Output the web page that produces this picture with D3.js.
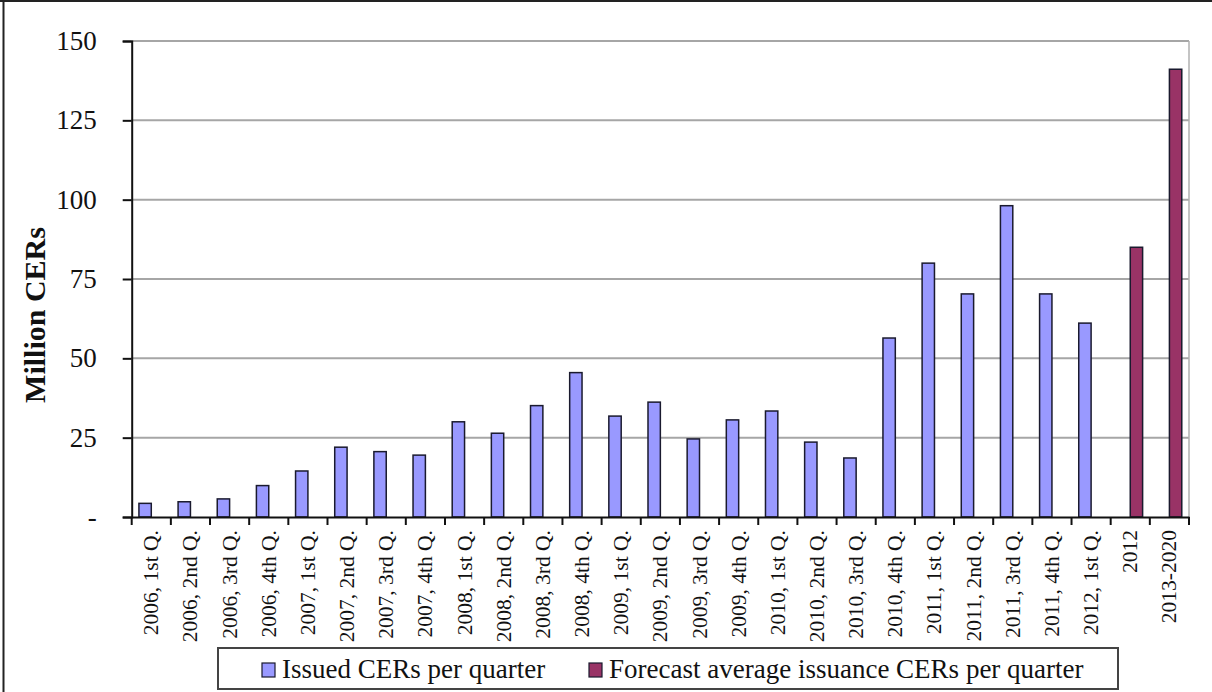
<!DOCTYPE html>
<meta charset="utf-8">
<html>
<head>
  <style>
    body {
      margin: 0;
      background: #fff;
    }
    svg {
      display: block;
      font-family: "Liberation Serif", "Times New Roman", serif;
    }
  </style>
</head>
<body>
<svg width="1212" height="692"></svg>
<script src="https://d3js.org/d3.v7.min.js"></script>
<script>
  const categories = [
    "2006, 1st Q.", "2006, 2nd Q.", "2006, 3rd Q.", "2006, 4th Q.",
    "2007, 1st Q.", "2007, 2nd Q.", "2007, 3rd Q.", "2007, 4th Q.",
    "2008, 1st Q.", "2008, 2nd Q.", "2008, 3rd Q.", "2008, 4th Q.",
    "2009, 1st Q.", "2009, 2nd Q.", "2009, 3rd Q.", "2009, 4th Q.",
    "2010, 1st Q.", "2010, 2nd Q.", "2010, 3rd Q.", "2010, 4th Q.",
    "2011, 1st Q.", "2011, 2nd Q.", "2011, 3rd Q.", "2011, 4th Q.",
    "2012, 1st Q.", "2012", "2013-2020"
  ];
  const issued = [
    4.3, 4.8, 5.7, 9.9,
    14.5, 22.0, 20.6, 19.5,
    30.0, 26.4, 35.1, 45.5,
    31.8, 36.2, 24.6, 30.6,
    33.4, 23.6, 18.6, 56.4,
    80.0, 70.3, 98.1, 70.3,
    61.1, null, null
  ];
  const forecast = [
    null, null, null, null, null, null, null, null, null, null,
    null, null, null, null, null, null, null, null, null, null,
    null, null, null, null, null, 85.0, 141.1
  ];
  const seriesNames = ["Issued CERs per quarter", "Forecast average issuance CERs per quarter"];
  const yTicks = [0, 25, 50, 75, 100, 125, 150];

  const colors = ["#9999ff", "#993366"];
  const plotLeft = 131.7, plotRight = 1189, plotTop = 41, plotBottom = 517;

  const svg = d3.select("svg");

  // outer frame (left and top edges visible)
  svg.append("line").attr("x1", 3.5).attr("x2", 3.5).attr("y1", 0).attr("y2", 692)
    .attr("stroke", "#222").attr("stroke-width", 2);
  svg.append("line").attr("x1", 0).attr("x2", 1212).attr("y1", 1).attr("y2", 1)
    .attr("stroke", "#222").attr("stroke-width", 2);

  const x0 = d3.scaleBand().domain(categories).range([plotLeft, plotRight]).padding(0);
  const x1 = d3.scaleBand().domain([0, 1]).range([0, x0.bandwidth()])
    .paddingInner(0).paddingOuter(0.585);
  const y = d3.scaleLinear().domain([0, 150]).range([plotBottom, plotTop]);

  // gridlines
  svg.append("g").selectAll("line")
    .data(yTicks.filter(d => d > 0))
    .enter().append("line")
    .attr("x1", plotLeft).attr("x2", plotRight)
    .attr("y1", d => y(d)).attr("y2", d => y(d))
    .attr("stroke", "#a6a6a6").attr("stroke-width", 2);
  svg.append("line").attr("x1", plotRight).attr("x2", plotRight).attr("y1", plotTop).attr("y2", plotBottom)
    .attr("stroke", "#b0b0b0").attr("stroke-width", 1.5);

  // bars
  const allSeries = [issued, forecast];
  allSeries.forEach((vals, si) => {
    svg.append("g").selectAll("rect")
      .data(categories.map((c, i) => ({ c, v: vals[i] })).filter(d => d.v != null))
      .enter().append("rect")
      .attr("x", d => x0(d.c) + x1(si))
      .attr("width", x1.bandwidth())
      .attr("y", d => y(d.v))
      .attr("height", d => y(0) - y(d.v))
      .attr("fill", colors[si])
      .attr("stroke", "#1a1a2e")
      .attr("stroke-width", 1.5);
  });

  // y axis
  const yAxis = svg.append("g").attr("transform", `translate(${plotLeft},0)`)
    .call(d3.axisLeft(y).tickValues(yTicks).tickSize(9).tickPadding(26)
      .tickFormat(d => d === 0 ? "-" : d));
  yAxis.select(".domain").attr("stroke", "#111").attr("stroke-width", 2);
  yAxis.selectAll(".tick line").attr("stroke", "#111").attr("stroke-width", 2);
  yAxis.selectAll(".tick text")
    .attr("font-family", "Liberation Serif, serif")
    .attr("font-size", 27).attr("fill", "#111");

  // x axis
  const xAxis = svg.append("g").attr("transform", `translate(0,${plotBottom})`)
    .call(d3.axisBottom(x0).tickSize(0).tickFormat(""));
  xAxis.select(".domain").attr("stroke", "#111").attr("stroke-width", 2);
  svg.append("g").selectAll("line")
    .data(categories.map(c => x0(c)).concat([plotRight]))
    .enter().append("line")
    .attr("x1", d => d).attr("x2", d => d)
    .attr("y1", plotBottom).attr("y2", plotBottom + 8)
    .attr("stroke", "#111").attr("stroke-width", 2);
  svg.append("g").selectAll("text")
    .data(categories)
    .enter().append("text")
    .attr("transform", d => `translate(${x0(d) + x0.bandwidth() / 2 + 7},530) rotate(-90)`)
    .attr("text-anchor", "end")
    .attr("font-size", 21.5)
    .attr("fill", "#111")
    .text(d => d);

  // y title
  svg.append("text")
    .attr("transform", "translate(45,315) rotate(-90)")
    .attr("text-anchor", "middle")
    .attr("font-size", 30)
    .attr("font-weight", "bold")
    .attr("fill", "#111")
    .text("Million CERs");

  // legend
  const lg = svg.append("g");
  lg.append("rect").attr("x", 218).attr("y", 648).attr("width", 900).attr("height", 41)
    .attr("fill", "#fff").attr("stroke", "#444").attr("stroke-width", 2);
  const legendX = [262, 589];
  seriesNames.forEach((name, i) => {
    lg.append("rect").attr("x", legendX[i]).attr("y", 663).attr("width", 13).attr("height", 14)
      .attr("fill", colors[i]).attr("stroke", "#1a1a2e").attr("stroke-width", 1.2);
    lg.append("text").attr("x", legendX[i] + 20).attr("y", 678)
      .attr("font-size", 27).attr("fill", "#111")
      .text(name);
  });
</script>
</body>
</html>
